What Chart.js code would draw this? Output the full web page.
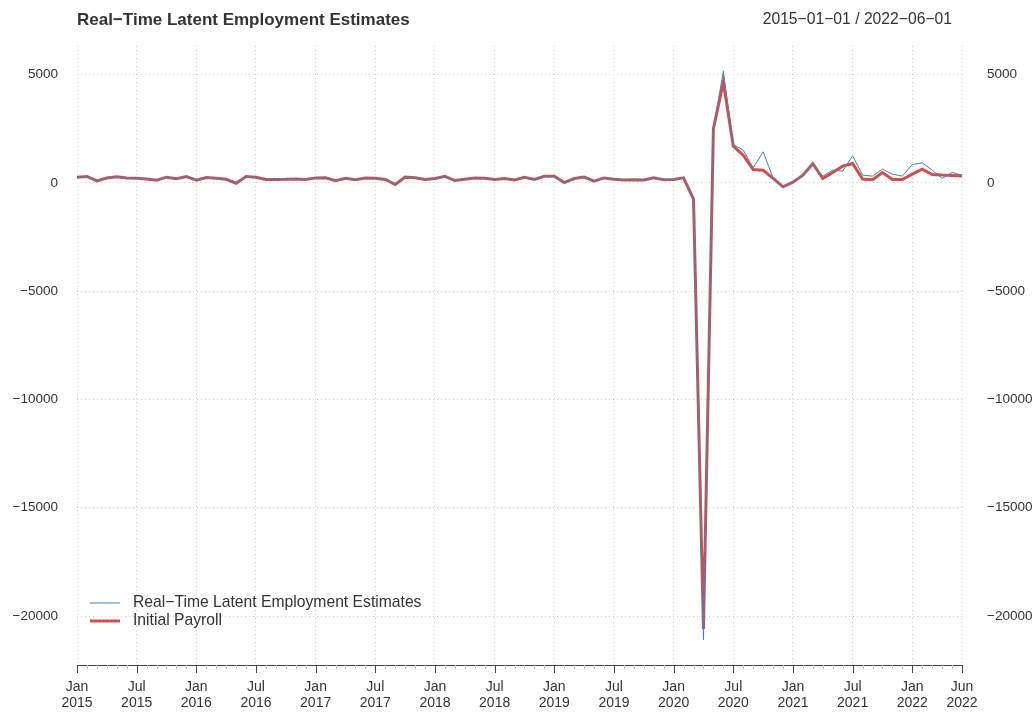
<!DOCTYPE html>
<html>
<head>
<meta charset="utf-8">
<script src="https://cdn.jsdelivr.net/npm/chart.js@4"></script>
<style>
  html, body { margin: 0; padding: 0; background: #fff; }
  #wrap { width: 1034px; height: 713px; }
</style>
</head>
<body>
<div id="wrap"><canvas id="chart" width="1034" height="713"></canvas></div>
<script>
// monthly values, Jan 2015 .. Jun 2022 (thousands)
const initialPayroll = [
    257, 295, 90, 223, 280, 223, 215, 173, 120, 260, 190, 285,
    120, 242, 215, 160, -20, 287, 255, 151, 156, 161, 178, 156,
    227, 235, 98, 211, 138, 222, 209, 156, -80, 261, 228, 148,
    200, 300, 103, 164, 223, 213, 157, 201, 134, 250, 155, 300,
    300, 10, 196, 263, 75, 224, 164, 130, 136, 128, 230, 145,
    150, 230, -750, -20600, 2500, 4650, 1690, 1275, 614, 584, 200, -185,
    30, 350, 880, 200, 475, 770, 890, 170, 138, 475, 150, 150,
    400, 630, 385, 355, 340, 310
];
const latentEstimates = [
    257, 295, 90, 223, 280, 223, 215, 173, 120, 260, 190, 285,
    120, 242, 215, 160, -20, 287, 255, 151, 156, 161, 178, 156,
    227, 235, 98, 211, 138, 222, 209, 156, -80, 261, 228, 148,
    200, 300, 103, 164, 223, 213, 157, 201, 134, 250, 155, 300,
    300, 10, 196, 263, 75, 224, 164, 130, 136, 128, 230, 145,
    150, 230, -750, -21100, 2500, 5150, 1765, 1505, 690, 1430, 230, -185,
    60, 320, 845, 308, 584, 540, 1245, 355, 308, 630, 400, 308,
    845, 920, 585, 200, 475, 355
];
const tickPositions = [0, 6, 12, 18, 24, 30, 36, 42, 48, 54, 60, 66, 72, 78, 84, 89];
const tickLabels = [
    ['Jan', '2015'], ['Jul', '2015'], ['Jan', '2016'], ['Jul', '2016'],
    ['Jan', '2017'], ['Jul', '2017'], ['Jan', '2018'], ['Jul', '2018'],
    ['Jan', '2019'], ['Jul', '2019'], ['Jan', '2020'], ['Jul', '2020'],
    ['Jan', '2021'], ['Jul', '2021'], ['Jan', '2022'], ['Jun', '2022']
];
const yTicks = [-20000, -15000, -10000, -5000, 0, 5000];

const chartTitle = 'Real\u2212Time Latent Employment Estimates';
const dateRange = '2015\u221201\u221201 / 2022\u221206\u221201';
const FONT = '"Liberation Sans", Arial, Helvetica, sans-serif';
const TEXT = '#333333';

const toPoints = arr => arr.map((v, i) => ({ x: i, y: v }));
const minus = v => String(v).replace('-', '\u2212');

// title, x-axis ticks and legend, drawn in R/xts fashion
const decorations = {
    id: 'decorations',
    afterDraw(chart) {
        const ctx = chart.ctx;
        const area = chart.chartArea;
        const xs = chart.scales.x;

        ctx.save();
        ctx.fillStyle = TEXT;
        ctx.textBaseline = 'middle';
        ctx.font = 'bold 17px ' + FONT;
        ctx.textAlign = 'left';
        ctx.fillText(chartTitle, area.left, 20);
        ctx.font = '15.7px ' + FONT;
        ctx.textAlign = 'right';
        ctx.fillText(dateRange, 952, 20);

        // axis line with monthly minor ticks
        ctx.strokeStyle = '#444';
        ctx.lineWidth = 1;
        ctx.beginPath();
        ctx.moveTo(area.left, area.bottom + 0.5);
        ctx.lineTo(area.right, area.bottom + 0.5);
        ctx.stroke();
        for (let i = 0; i < initialPayroll.length; i++) {
            const px = Math.round(xs.getPixelForValue(i)) + 0.5;
            const major = tickPositions.includes(i);
            ctx.strokeStyle = major ? '#444' : '#bbb';
            ctx.beginPath();
            ctx.moveTo(px, area.bottom);
            ctx.lineTo(px, area.bottom + (major ? 8 : 4));
            ctx.stroke();
        }

        // legend
        const items = chart.data.datasets;
        let y = 603;
        items.forEach(ds => {
            ctx.strokeStyle = ds.borderColor;
            ctx.lineWidth = ds.borderWidth;
            ctx.beginPath();
            ctx.moveTo(90, y);
            ctx.lineTo(120, y);
            ctx.stroke();
            ctx.fillStyle = TEXT;
            ctx.font = '15.7px ' + FONT;
            ctx.textAlign = 'left';
            ctx.fillText(ds.label, 133, y);
            y += 18;
        });
        ctx.restore();
    }
};

const yScale = (position, width, padding) => ({
    type: 'linear',
    position: position,
    min: -22260,
    max: 6315,
    afterBuildTicks: scale => { scale.ticks = yTicks.map(v => ({ value: v })); },
    afterFit: scale => { scale.width = width; },
    grid: {
        display: position === 'left',
        drawTicks: false,
        color: '#cfcfcf',
        lineWidth: 1
    },
    border: { display: false, dash: [1, 3] },
    ticks: {
        padding: padding,
        color: TEXT,
        font: { family: FONT, size: 13.5 },
        callback: v => minus(v)
    }
});

new Chart(document.getElementById('chart'), {
    type: 'line',
    data: {
        datasets: [
            {
                label: 'Real\u2212Time Latent Employment Estimates',
                data: toPoints(latentEstimates),
                borderColor: '#4682b4',
                borderWidth: 1,
                pointRadius: 0,
                tension: 0,
                order: 0
            },
            {
                label: 'Initial Payroll',
                data: toPoints(initialPayroll),
                borderColor: '#cf4f4f',
                borderWidth: 3,
                pointRadius: 0,
                tension: 0,
                order: 1
            }
        ]
    },
    options: {
        responsive: false,
        animation: false,
        layout: { padding: { top: 46, left: 0, right: 0, bottom: 0 } },
        plugins: {
            legend: { display: false },
            tooltip: { enabled: false }
        },
        scales: {
            x: {
                type: 'linear',
                min: 0,
                max: initialPayroll.length - 1,
                afterBuildTicks: scale => { scale.ticks = tickPositions.map(v => ({ value: v })); },
                afterFit: scale => { scale.height = 48; },
                grid: {
                    drawTicks: false,
                    color: '#cfcfcf',
                    lineWidth: 1
                },
                border: { display: false, dash: [1, 3] },
                ticks: {
                    padding: 14,
                    maxRotation: 0,
                    autoSkip: false,
                    color: TEXT,
                    font: { family: FONT, size: 14, lineHeight: 1.15 },
                    callback: (v, i) => tickLabels[i]
                }
            },
            y: yScale('left', 77, 19),
            y2: yScale('right', 72, 25)
        }
    },
    plugins: [decorations]
});
</script>
</body>
</html>
